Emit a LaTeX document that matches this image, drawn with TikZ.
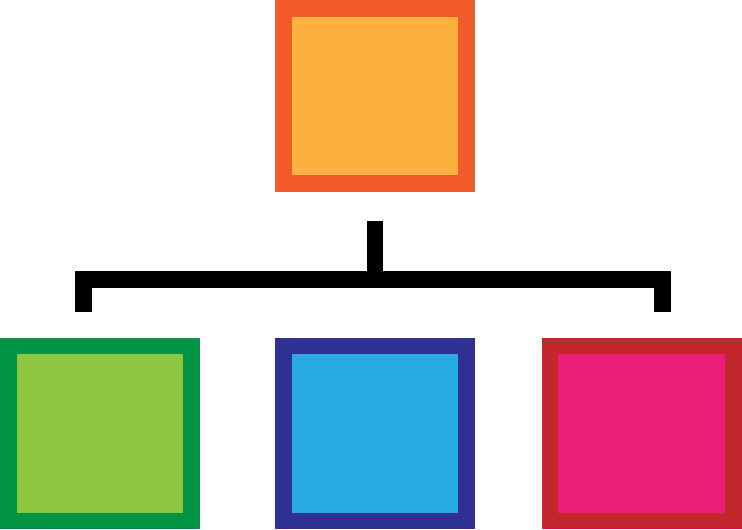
\documentclass[tikz,border=0pt]{standalone}
\usepackage{xcolor}
\usetikzlibrary{positioning,calc}

\definecolor{rootEdge}{HTML}{F15A29}
\definecolor{rootFill}{HTML}{FBB040}
\definecolor{greenEdge}{HTML}{009444}
\definecolor{greenFill}{HTML}{8DC63F}
\definecolor{blueEdge}{HTML}{2E3192}
\definecolor{blueFill}{HTML}{29ABE2}
\definecolor{redEdge}{HTML}{C1272D}
\definecolor{redFill}{HTML}{ED1E79}

\begin{document}
\begin{tikzpicture}[
    unit/.style={rectangle,line width=0.5cm,minimum width=5.5cm,
      minimum height=5.25cm,inner sep=0pt},
    bar/.style={draw=black,line width=0.5cm,line join=miter}
  ]
    \useasboundingbox (-11.25,2.875) rectangle (11.01,-12.995);

    % Top of the tree.
    \node[unit,draw=rootEdge,fill=rootFill] (root) at (0,0) {};

    % Second row.
    \node[unit,draw=blueEdge,fill=blueFill,below=4.375cm of root] (mid) {};
    \node[unit,draw=greenEdge,fill=greenFill,left=2.25cm of mid] (left) {};
    \node[unit,draw=redEdge,fill=redFill,right=2.0cm of mid] (right) {};

    % Bracket between the rows.
    \coordinate (stub) at ($(root.south)+(0,-0.87)$);
    \coordinate (hub) at (0,-5.5);
    \coordinate (legL) at (-8.745,-6.495);
    \coordinate (legR) at (8.62,-6.495);
    \draw[bar] (stub) -- (hub);
    \draw[bar] (legL) |- (hub) -| (legR);
  \end{tikzpicture}
\end{document}
